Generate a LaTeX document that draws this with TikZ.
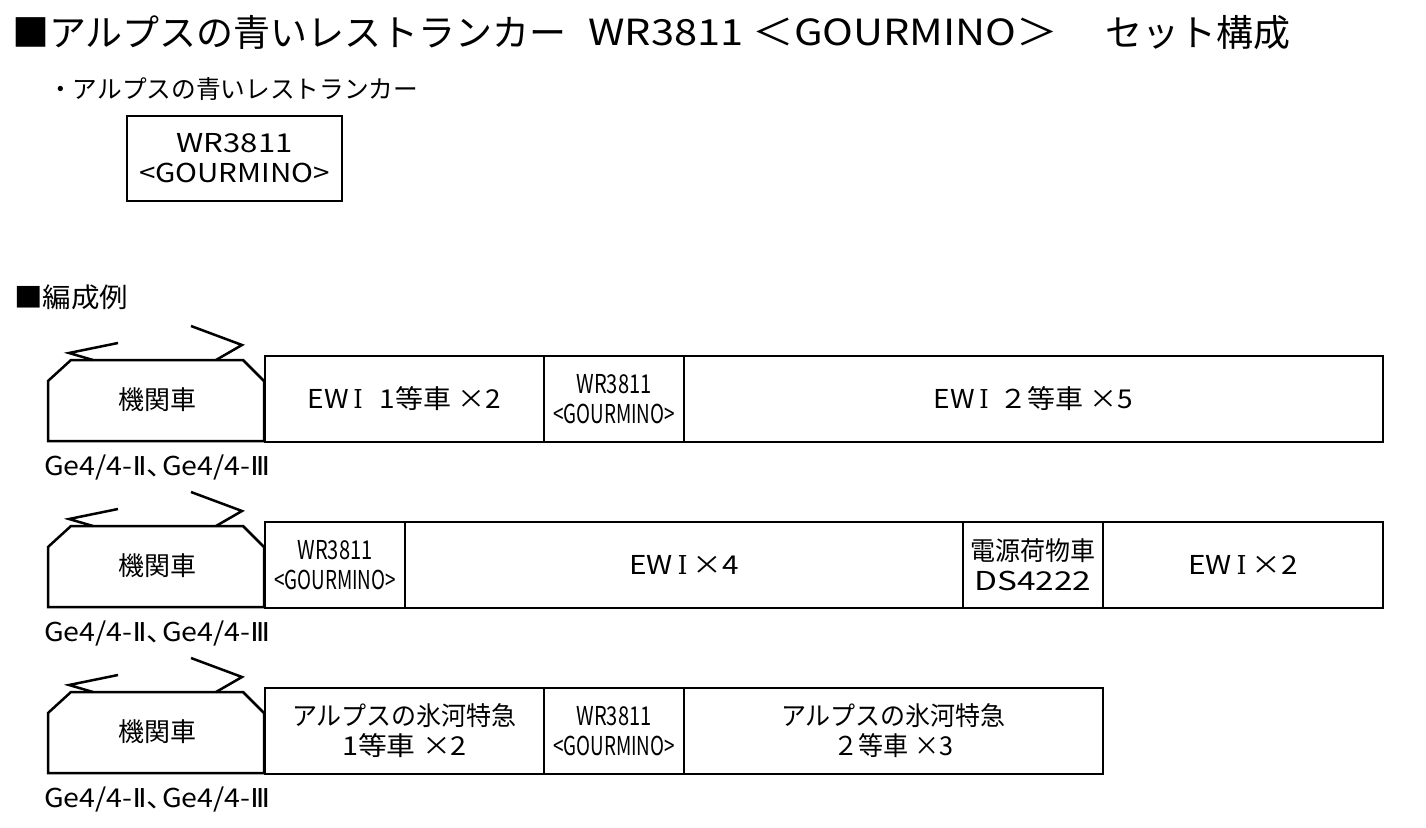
\documentclass[tikz,border=0pt]{standalone}
\usepackage{fontspec}
\setmainfont{Noto Sans CJK JP}
\newfontfamily\dv{DejaVu Sans}
\newfontfamily\dvs{DejaVu Serif}
\usepackage{graphicx}
\newcommand{\fitw}[2]{\resizebox{#1}{\height}{#2}}
\tikzset{
  txt/.style={inner sep=0pt, font=\fontsize{26}{30}\selectfont, align=center},
  car/.style={draw, line width=2pt, inner sep=0pt, font=\fontsize{26}{30}\selectfont, align=center, anchor=north west, minimum height=86pt},
  heavy/.style={line width=2.5pt, line join=miter},
}
\newcommand{\romI}{\,{\dvs\scalebox{0.85}[1]{I}}\,}
\newcommand{\loco}[2]{%
\begin{scope}[shift={(0,#1)}]
\draw[heavy] (48,441) -- (48,381) -- (71,360) -- (243,360) -- (264,381) -- (264,441) -- cycle;
\draw[heavy] (93,360) -- (69,353) -- (118,343);
\draw[heavy] (216,360) -- (242,345) -- (191,326);
\node[txt] (#2loco) at (157,400) {機関車};
\node[txt, anchor=base west] (#2ge) at (44,475) {\fitw{226pt}{Ge4/4-{\dv Ⅱ}\makebox[14pt][l]{、}Ge4/4-{\dv Ⅲ}}};
\end{scope}}
\newcommand{\gourmino}{\fitw{75pt}{WR3811}\\\fitw{122pt}{<GOURMINO>}}
\begin{document}
\begin{tikzpicture}[x=1pt,y=-1pt]
\useasboundingbox[fill=white] (0,0) rectangle (1426,827);
% title
\node[inner sep=0pt, anchor=base west, font=\fontsize{37}{40}\selectfont] (t1) at (12,46) {■アルプスの青いレストランカー};
\node[inner sep=0pt, anchor=base west, font=\fontsize{36}{40}\selectfont] (t2) at (588,45) {\fitw{470pt}{WR3811 ＜GOURMINO＞}};
\node[inner sep=0pt, anchor=base west, font=\fontsize{37}{40}\selectfont] (t3) at (1105,46) {\fitw{185pt}{セット構成}};
\node[txt, anchor=base west, font=\fontsize{25}{29}\selectfont] (sub) at (48,98) {\fitw{370pt}{・アルプスの青いレストランカー}};
\node[car, minimum width=215pt, minimum height=85pt] (setbox) at (126,115) {\fitw{116pt}{WR3811}\\\fitw{191pt}{<GOURMINO>}};
\node[inner sep=0pt, anchor=base west, font=\fontsize{27}{30}\selectfont] (hen) at (14,307) {\fitw{114pt}{■編成例}};
% row 1
\loco{0}{a}
\node[car, minimum width=279pt] (a1) at (264,355) {\fitw{194pt}{EW\romI\ \ 1等車 ×2}};
\node[car, minimum width=140pt] (a2) at (543,355) {\gourmino};
\node[car, minimum width=699pt] (a3) at (683,355) {\fitw{200pt}{EW\romI\ ２等車 ×5}};
% row 2
\loco{166}{b}
\node[car, minimum width=140pt] (b1) at (264,521) {\gourmino};
\node[car, minimum width=558pt] (b2) at (404,521) {\fitw{110pt}{EW\romI×4}};
\node[car, minimum width=140pt] (b3) at (962,521) {\fitw{125pt}{電源荷物車}\\\fitw{117pt}{DS4222}};
\node[car, minimum width=280pt] (b4) at (1102,521) {\fitw{110pt}{EW\romI×2}};
% row 3
\loco{332}{c}
\node[car, minimum width=279pt] (c1) at (264,687) {\fitw{225pt}{アルプスの氷河特急}\\\fitw{125pt}{1等車 ×2}};
\node[car, minimum width=140pt] (c2) at (543,687) {\gourmino};
\node[car, minimum width=419pt] (c3) at (683,687) {\fitw{225pt}{アルプスの氷河特急}\\\fitw{120pt}{２等車 ×3}};
\end{tikzpicture}
\end{document}
